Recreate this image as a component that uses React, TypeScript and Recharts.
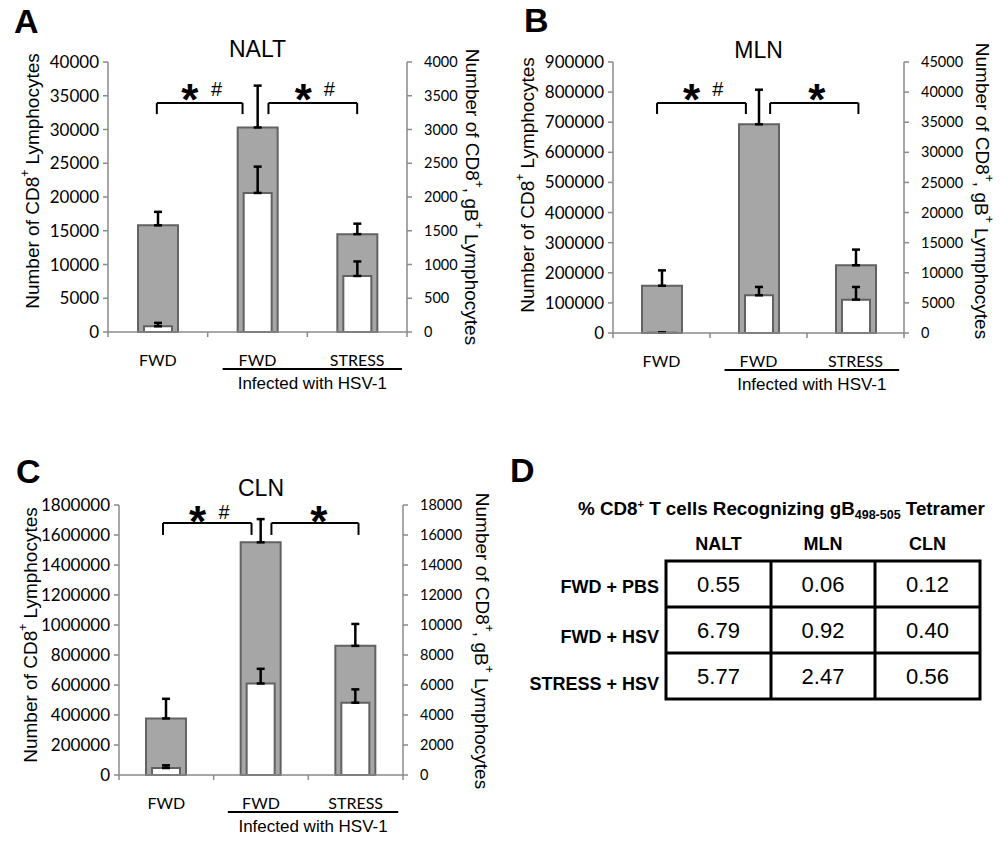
import React from 'react'
import { BarChart, Bar, XAxis, YAxis, ErrorBar, ReferenceLine, ReferenceDot } from 'recharts'

// x categories (the last two groups were infected with HSV-1)
const groupIds = ['ctrl', 'hsvFwd', 'hsvStress']
const groupLabels = ['FWD', 'FWD', 'STRESS']
const groupPos = [0.5, 1.5, 2.5]

// NALT
const naltTotal = [15800, 30300, 14500]
const naltTotalErr = [2000, 6200, 1550]
const naltGb = [85, 2060, 830]
const naltGbErr = [50, 390, 215]
const naltLeftTicks = [0, 5000, 10000, 15000, 20000, 25000, 30000, 35000, 40000]
const naltRightTicks = [0, 500, 1000, 1500, 2000, 2500, 3000, 3500, 4000]

// MLN
const mlnTotal = [157000, 693000, 225000]
const mlnTotalErr = [51000, 115000, 52000]
const mlnGb = [60, 6260, 5540]
const mlnGbErr = [40, 1390, 2100]
const mlnLeftTicks = [0, 100000, 200000, 300000, 400000, 500000, 600000, 700000, 800000, 900000]
const mlnRightTicks = [0, 5000, 10000, 15000, 20000, 25000, 30000, 35000, 40000, 45000]

// CLN
const clnTotal = [377000, 1551000, 861000]
const clnTotalErr = [131000, 155000, 146000]
const clnGb = [466, 6100, 4820]
const clnGbErr = [178, 980, 890]
const clnLeftTicks = [0, 200000, 400000, 600000, 800000, 1000000, 1200000, 1400000, 1600000, 1800000]
const clnRightTicks = [0, 2000, 4000, 6000, 8000, 10000, 12000, 14000, 16000, 18000]

// table D
const tableCols = ['NALT', 'MLN', 'CLN']
const tableRows = ['FWD + PBS', 'FWD + HSV', 'STRESS + HSV']
const tetNalt = ['0.55', '6.79', '5.77']
const tetMln = ['0.06', '0.92', '2.47']
const tetCln = ['0.12', '0.40', '0.56']

const AXIS = '#8a8a8a'
const ARIAL = '"Liberation Sans", Arial, sans-serif'
const TICKFONT = 'Lato, "Open Sans", sans-serif'

type Box = { x: number; y: number; w: number; h: number }
type Plot = { l: number; r: number; t: number; b: number }
type Bracket = { from: number; to: number; top: number; foot: number }
type Mark = { x: number; y: number; text: string }

function GroupTick(props: any) {
  const { x, y, payload, catW } = props
  const v = payload.value
  if (Number.isInteger(v)) {
    return (
      <g>
        <line x1={x} y1={y} x2={x} y2={y + 5} stroke={AXIS} strokeWidth={1.5} />
        {v === 2 && (
          <g>
            <line x1={x - 0.85 * catW} x2={x + 0.95 * catW} y1={y + 37} y2={y + 37} stroke="#000" strokeWidth={2} />
            <text x={x + 0.05 * catW} y={y + 57} textAnchor="middle" fontFamily={ARIAL} fontSize={17} fill="#000">
              Infected with HSV-1
            </text>
          </g>
        )}
      </g>
    )
  }
  return (
    <text x={x} y={y + 34} textAnchor="middle" fontFamily={TICKFONT} fontSize={16} fill="#000">
      {groupLabels[Math.floor(v)]}
    </text>
  )
}

function Panel(props: {
  letter: string
  title: string
  box: Box
  plot: Plot
  total: number[]
  totalErr: number[]
  gb: number[]
  gbErr: number[]
  leftTicks: number[]
  rightTicks: number[]
  brackets: Bracket[]
  marks: Mark[]
  titles: { lx: number; ly: number; rx: number; ry: number; ty: number; letterY: number; letterX: number }
}) {
  const { box, plot, leftTicks, rightTicks, titles } = props
  const rows = groupIds.map((id, i) => ({
    id,
    pos: groupPos[i],
    total: props.total[i],
    totalErr: [0, props.totalErr[i]],
    gb: props.gb[i],
    gbErr: [0, props.gbErr[i]],
  }))
  const leftMax = leftTicks[leftTicks.length - 1]
  const rightMax = rightTicks[rightTicks.length - 1]
  const catW = (plot.r - plot.l) / 3

  return (
    <div style={{ position: 'absolute', left: box.x, top: box.y, width: box.w, height: box.h }}>
      <BarChart width={box.w} height={box.h} data={rows} margin={{ top: plot.t, right: 0, bottom: 0, left: 0 }}>
        <XAxis
          xAxisId="n"
          dataKey="pos"
          type="number"
          domain={[0, 3]}
          allowDataOverflow
          ticks={[0, 0.5, 1, 1.5, 2, 2.5, 3]}
          interval={0}
          tickLine={false}
          tickSize={0}
          tickMargin={0}
          axisLine={{ stroke: AXIS, strokeWidth: 1.5 }}
          height={box.h - plot.b}
          tick={(p: any) => <GroupTick {...p} catW={catW} />}
        />
        <XAxis xAxisId="g" dataKey="id" hide height={0} />
        <XAxis xAxisId="w" dataKey="id" hide height={0} />
        <YAxis
          yAxisId="l"
          domain={[0, leftMax]}
          ticks={leftTicks}
          interval={0}
          width={plot.l}
          tickSize={5}
          tickMargin={4}
          tick={{ fontFamily: TICKFONT, fontSize: 17, fill: '#000' }}
          axisLine={{ stroke: AXIS, strokeWidth: 1.5 }}
          tickLine={{ stroke: AXIS, strokeWidth: 1.5 }}
        />
        <YAxis
          yAxisId="r"
          orientation="right"
          domain={[0, rightMax]}
          ticks={rightTicks}
          interval={0}
          width={box.w - plot.r}
          tickSize={5}
          tickMargin={12}
          tick={{ fontFamily: TICKFONT, fontSize: 14.5, fill: '#000', textAnchor: 'start' }}
          axisLine={{ stroke: AXIS, strokeWidth: 1.5 }}
          tickLine={{ stroke: AXIS, strokeWidth: 1.5 }}
        />
        <Bar xAxisId="g" yAxisId="l" dataKey="total" fill="#a6a6a6" stroke="#626262" strokeWidth={2} barSize={40} isAnimationActive={false}>
          <ErrorBar dataKey="totalErr" width={4} stroke="#000" strokeWidth={2.5} direction="y" isAnimationActive={false} />
        </Bar>
        <Bar xAxisId="w" yAxisId="r" dataKey="gb" fill="#fff" stroke="#626262" strokeWidth={2} barSize={28} isAnimationActive={false}>
          <ErrorBar dataKey="gbErr" width={4} stroke="#000" strokeWidth={2.5} direction="y" isAnimationActive={false} />
        </Bar>
        {props.brackets.flatMap((b, i) => [
          <ReferenceLine key={`h${i}`} xAxisId="n" yAxisId="l" ifOverflow="visible" stroke="#000" strokeWidth={2}
            segment={[{ x: b.from, y: b.top * leftMax }, { x: b.to, y: b.top * leftMax }]} />,
          <ReferenceLine key={`a${i}`} xAxisId="n" yAxisId="l" ifOverflow="visible" stroke="#000" strokeWidth={2}
            segment={[{ x: b.from, y: b.top * leftMax }, { x: b.from, y: b.foot * leftMax }]} />,
          <ReferenceLine key={`b${i}`} xAxisId="n" yAxisId="l" ifOverflow="visible" stroke="#000" strokeWidth={2}
            segment={[{ x: b.to, y: b.top * leftMax }, { x: b.to, y: b.foot * leftMax }]} />,
        ])}
        {props.marks.map((m, i) => (
          <ReferenceDot
            key={`m${i}`}
            xAxisId="n"
            yAxisId="l"
            x={m.x}
            y={m.y * leftMax}
            ifOverflow="visible"
            shape={(p: any) =>
              m.text === '*' ? (
                <text x={p.cx} y={p.cy + 25} textAnchor="middle" fontFamily={ARIAL} fontWeight="bold" fontSize={44} fill="#000">*</text>
              ) : (
                <text x={p.cx} y={p.cy + 7} textAnchor="middle" fontFamily={ARIAL} fontSize={20} fill="#000">{m.text}</text>
              )
            }
          />
        ))}
      </BarChart>
      <svg width={box.w} height={box.h} style={{ position: 'absolute', left: 0, top: 0, pointerEvents: 'none' }}>
        <text x={titles.letterX} y={titles.letterY} fontFamily={ARIAL} fontWeight="bold" fontSize={34} fill="#000">{props.letter}</text>
        <text x={(plot.l + plot.r) / 2} y={titles.ty} textAnchor="middle" fontFamily={ARIAL} fontSize={23} fill="#000">{props.title}</text>
        <text transform={`translate(${titles.lx},${titles.ly}) rotate(-90)`} textAnchor="middle" dominantBaseline="central"
          fontFamily={ARIAL} fontSize={19} fill="#000">
          Number of CD8<tspan dy={-7} fontSize={12}>+</tspan><tspan dy={7}> Lymphocytes</tspan>
        </text>
        <text transform={`translate(${titles.rx},${titles.ry}) rotate(90)`} textAnchor="middle" dominantBaseline="central"
          fontFamily={ARIAL} fontSize={19} fill="#000">
          Number of CD8<tspan dy={-7} fontSize={12}>+</tspan><tspan dy={7}>, gB</tspan><tspan dy={-7} fontSize={12}>+</tspan>
          <tspan dy={7}> Lymphocytes</tspan>
        </text>
      </svg>
    </div>
  )
}

function TableD() {
  const colX = [718.5, 823, 927.5]
  const rowMid = [584, 630, 676]
  const labelBase = [593, 643, 690]
  const cols = [tetNalt, tetMln, tetCln]
  return (
    <svg width={1008} height={845} style={{ position: 'absolute', left: 0, top: 0, pointerEvents: 'none' }}>
      <text x={510} y={482} fontFamily={ARIAL} fontWeight="bold" fontSize={34} fill="#000">D</text>
      <text x={578} y={515} fontFamily={ARIAL} fontWeight="bold" fontSize={18.8} fill="#000">
        % CD8<tspan dy={-7} fontSize={11}>+</tspan><tspan dy={7}> T cells Recognizing gB</tspan>
        <tspan dy={4} fontSize={12.5}>498-505</tspan><tspan dy={-4}> Tetramer</tspan>
      </text>
      {tableCols.map((c, i) => (
        <text key={c} x={colX[i]} y={550} textAnchor="middle" fontFamily={ARIAL} fontWeight="bold" fontSize={18} fill="#000">{c}</text>
      ))}
      {tableRows.map((r, j) => (
        <text key={r} x={659} y={labelBase[j]} textAnchor="end" fontFamily={ARIAL} fontWeight="bold" fontSize={18} fill="#000">{r}</text>
      ))}
      {cols.map((col, i) =>
        col.map((v, j) => (
          <text key={`${i}-${j}`} x={colX[i]} y={rowMid[j] + 8} textAnchor="middle" fontFamily={ARIAL} fontSize={22} fill="#000">{v}</text>
        ))
      )}
      <rect x={666} y={561} width={314} height={138} fill="none" stroke="#000" strokeWidth={3} />
      <line x1={771} x2={771} y1={561} y2={699} stroke="#000" strokeWidth={3} />
      <line x1={875} x2={875} y1={561} y2={699} stroke="#000" strokeWidth={3} />
      <line x1={666} x2={980} y1={607} y2={607} stroke="#000" strokeWidth={3} />
      <line x1={666} x2={980} y1={653} y2={653} stroke="#000" strokeWidth={3} />
    </svg>
  )
}

export default function App() {
  return (
    <div style={{ position: 'absolute', left: 0, top: 0, width: 1008, height: 845, background: '#fff', overflow: 'hidden' }}>
      <Panel
        letter="A"
        title="NALT"
        box={{ x: 0, y: 0, w: 500, h: 400 }}
        plot={{ l: 108, r: 407, t: 62, b: 332 }}
        total={naltTotal}
        totalErr={naltTotalErr}
        gb={naltGb}
        gbErr={naltGbErr}
        leftTicks={naltLeftTicks}
        rightTicks={naltRightTicks}
        brackets={[
          { from: 0.49, to: 1.35, top: 0.848, foot: 0.807 },
          { from: 1.61, to: 2.5, top: 0.848, foot: 0.807 },
        ]}
        marks={[
          { x: 0.82, y: 0.896, text: '*' },
          { x: 1.09, y: 0.9, text: '#' },
          { x: 1.96, y: 0.896, text: '*' },
          { x: 2.22, y: 0.9, text: '#' },
        ]}
        titles={{ lx: 32, ly: 181, rx: 472, ry: 197, ty: 57, letterX: 14, letterY: 33 }}
      />
      <Panel
        letter="B"
        title="MLN"
        box={{ x: 500, y: 0, w: 508, h: 400 }}
        plot={{ l: 113, r: 404, t: 62, b: 333 }}
        total={mlnTotal}
        totalErr={mlnTotalErr}
        gb={mlnGb}
        gbErr={mlnGbErr}
        leftTicks={mlnLeftTicks}
        rightTicks={mlnRightTicks}
        brackets={[
          { from: 0.454, to: 1.37, top: 0.849, foot: 0.808 },
          { from: 1.62, to: 2.53, top: 0.849, foot: 0.808 },
        ]}
        marks={[
          { x: 0.81, y: 0.897, text: '*' },
          { x: 1.08, y: 0.9, text: '#' },
          { x: 2.1, y: 0.897, text: '*' },
        ]}
        titles={{ lx: 27, ly: 185, rx: 482, ry: 191, ty: 58, letterX: 24, letterY: 32 }}
      />
      <Panel
        letter="C"
        title="CLN"
        box={{ x: 0, y: 420, w: 500, h: 425 }}
        plot={{ l: 119, r: 403, t: 85, b: 355 }}
        total={clnTotal}
        totalErr={clnTotalErr}
        gb={clnGb}
        gbErr={clnGbErr}
        leftTicks={clnLeftTicks}
        rightTicks={clnRightTicks}
        brackets={[
          { from: 0.465, to: 1.4, top: 0.933, foot: 0.889 },
          { from: 1.61, to: 2.53, top: 0.933, foot: 0.889 },
        ]}
        marks={[
          { x: 0.83, y: 0.974, text: '*' },
          { x: 1.11, y: 0.974, text: '#' },
          { x: 2.11, y: 0.974, text: '*' },
        ]}
        titles={{ lx: 30, ly: 215, rx: 482, ry: 221, ty: 76, letterX: 16, letterY: 63 }}
      />
      <TableD />
    </div>
  )
}
